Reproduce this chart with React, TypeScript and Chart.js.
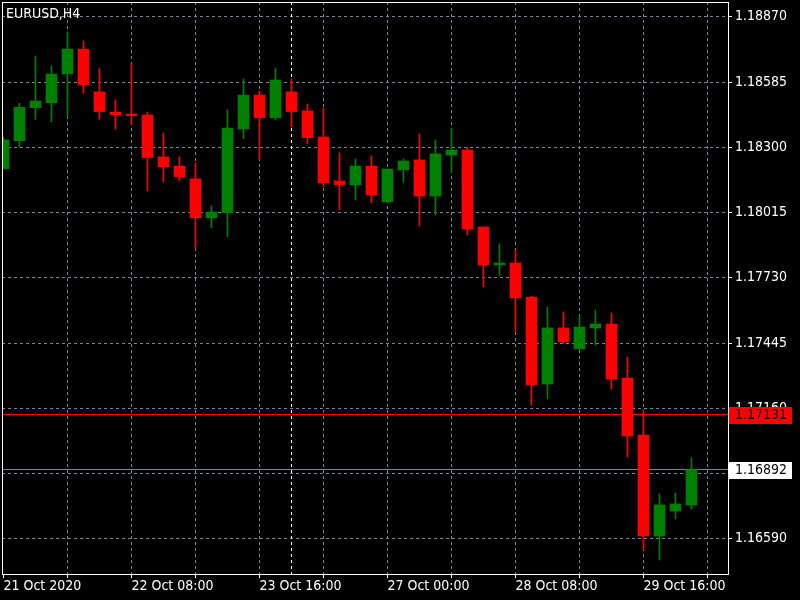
import React, { useEffect, useRef } from 'react';
import { Chart, registerables } from 'chart.js';

Chart.register(...registerables);

// ---- data ----
const symbolTitle = 'EURUSD,H4';
const candleIndex = [
  0, 1, 2, 3, 4, 5, 6, 7, 8, 9, 10, 11, 12, 13, 14, 15, 16, 17, 18, 19, 20, 21,
  22, 23, 24, 25, 26, 27, 28, 29, 30, 31, 32, 33, 34, 35, 36, 37, 38, 39, 40, 41, 42, 43,
];
const opens = [
  1.18207, 1.18329, 1.18473, 1.18495, 1.18621, 1.18729, 1.18542, 1.18454, 1.18445, 1.18441,
  1.18258, 1.18218, 1.18162, 1.17992, 1.18014, 1.1838, 1.18528, 1.18429, 1.18542, 1.18459,
  1.18345, 1.18153, 1.18135, 1.18218, 1.18062, 1.18201, 1.18245, 1.18087, 1.18266, 1.18288,
  1.17952, 1.17786, 1.17795, 1.17646, 1.17266, 1.17511, 1.17419, 1.17511, 1.17528, 1.17292,
  1.17043, 1.16602, 1.16711, 1.16738,
];
const highs = [
  1.18344, 1.18492, 1.18699, 1.18655, 1.18804, 1.18764, 1.18646, 1.18507, 1.18667, 1.18454,
  1.18362, 1.18258, 1.18231, 1.18044, 1.18463, 1.18598, 1.18546, 1.18646, 1.18598, 1.18489,
  1.18472, 1.18275, 1.18249, 1.18262, 1.18205, 1.18249, 1.18358, 1.18332, 1.18384, 1.18299,
  1.17952, 1.17878, 1.17851, 1.1765, 1.17602, 1.17581, 1.17563, 1.17589, 1.17576, 1.17384,
  1.17153, 1.16786, 1.1679, 1.16943,
];
const lows = [
  1.18205, 1.183, 1.18422, 1.18412, 1.18437, 1.18536, 1.18422, 1.18379, 1.18399, 1.1811,
  1.1815, 1.18154, 1.17859, 1.17949, 1.1791, 1.18338, 1.18245, 1.18421, 1.1839, 1.18316,
  1.18128, 1.18027, 1.1807, 1.18057, 1.18057, 1.18148, 1.17956, 1.18004, 1.18189, 1.17917,
  1.17691, 1.17738, 1.17493, 1.17174, 1.17201, 1.17441, 1.17419, 1.17436, 1.17244, 1.16947,
  1.16541, 1.16497, 1.16676, 1.1672,
];
const closes = [
  1.18332, 1.18475, 1.18502, 1.1862, 1.18729, 1.18573, 1.18456, 1.18442, 1.18438, 1.18255,
  1.18215, 1.18172, 1.17992, 1.18017, 1.18384, 1.18528, 1.18429, 1.18594, 1.18456, 1.18342,
  1.18145, 1.18137, 1.18218, 1.18092, 1.18205, 1.1824, 1.18087, 1.18271, 1.18288, 1.17943,
  1.17786, 1.17795, 1.17642, 1.17262, 1.17511, 1.1745, 1.17515, 1.17528, 1.17288, 1.17039,
  1.16602, 1.16738, 1.16742, 1.16892,
];
const xTickLabels = [
  '21 Oct 2020', '22 Oct 08:00', '23 Oct 16:00', '27 Oct 00:00', '28 Oct 08:00', '29 Oct 16:00',
];
const xLabelEvery = 8; // candles between date labels
const xGridEvery = 4; // candles between vertical grid lines
const yTicks = [1.1659, 1.16875, 1.1716, 1.17445, 1.1773, 1.18015, 1.183, 1.18585, 1.1887];
const redLinePrice = 1.17131;
const greyLinePrice = 1.16892;
const separatorCandle = 18;

// ---- styles ----
const BG = '#000000';
const UP = '#008000';
const DOWN = '#ff0000';
const GRID = '#778899';
const FG = '#ffffff';
const FONT_FAMILY = '"DejaVu Sans Condensed", "DejaVu Sans", sans-serif';
const FONT_SIZE = 14;
const DASH = [3, 3];

const App = () => {
  const ref = useRef<HTMLCanvasElement>(null);

  useEffect(() => {
    const canvas = ref.current;
    if (!canvas) return;

    const colors = candleIndex.map((_, i) => (closes[i] >= opens[i] ? UP : DOWN));
    const bodies = candleIndex.map((k, i) => ({ x: k, y: [opens[i], closes[i]] }));
    const wicks = candleIndex.map((k, i) => ({ x: k, y: [lows[i], highs[i]] }));
    const gridTicks: number[] = [];
    for (let k = 0; k <= candleIndex[candleIndex.length - 1] + 1; k += xGridEvery) gridTicks.push(k);

    const font = { family: FONT_FAMILY, size: FONT_SIZE };
    const fontStr = `${FONT_SIZE}px ${FONT_FAMILY}`;

    const mt4Plugin = {
      id: 'mt4',
      beforeDraw(chart: any) {
        const { ctx, width, height } = chart;
        ctx.save();
        ctx.fillStyle = BG;
        ctx.fillRect(0, 0, width, height);
        ctx.restore();
      },
      beforeDatasetsDraw(chart: any) {
        const { ctx, chartArea, scales } = chart;
        ctx.save();
        ctx.lineWidth = 1;
        // separator
        const sx = Math.round(scales.x.getPixelForValue(separatorCandle) - 0.5) + 0.5;
        ctx.strokeStyle = FG;
        ctx.setLineDash(DASH);
        ctx.beginPath();
        ctx.moveTo(sx, chartArea.top);
        ctx.lineTo(sx, chartArea.bottom);
        ctx.stroke();
        ctx.setLineDash([]);
        // price lines
        const lines = [
          { p: redLinePrice, c: DOWN },
          { p: greyLinePrice, c: GRID },
        ];
        lines.forEach(({ p, c }) => {
          const y = Math.round(scales.y.getPixelForValue(p) - 0.5) + 0.5;
          ctx.strokeStyle = c;
          ctx.beginPath();
          ctx.moveTo(chartArea.left, y);
          ctx.lineTo(chartArea.right, y);
          ctx.stroke();
        });
        ctx.restore();
      },
      afterDraw(chart: any) {
        const { ctx, chartArea, scales } = chart;
        ctx.save();
        // frame
        ctx.strokeStyle = FG;
        ctx.lineWidth = 1;
        ctx.strokeRect(
          chartArea.left + 0.5,
          chartArea.top + 0.5,
          chartArea.right - chartArea.left,
          chartArea.bottom - chartArea.top,
        );
        // price boxes
        ctx.font = fontStr;
        ctx.textBaseline = 'middle';
        ctx.textAlign = 'left';
        const boxes = [
          { p: redLinePrice, bg: DOWN },
          { p: greyLinePrice, bg: FG },
        ];
        boxes.forEach(({ p, bg }) => {
          const y = Math.round(scales.y.getPixelForValue(p));
          ctx.fillStyle = bg;
          ctx.fillRect(chartArea.right + 1, y - 8, 63, 17);
          ctx.fillStyle = '#000000';
          ctx.fillText(p.toFixed(5), chartArea.right + 7, y + 0.5);
        });
        // title
        ctx.fillStyle = FG;
        ctx.fillText(symbolTitle, 6, 14);
        ctx.restore();
      },
    };

    const chart = new Chart(canvas, {
      type: 'bar',
      data: {
        datasets: [
          {
            data: bodies as any,
            backgroundColor: colors,
            barThickness: 11,
            grouped: false,
            borderWidth: 0,
          },
          {
            data: wicks as any,
            backgroundColor: colors,
            barThickness: 1,
            grouped: false,
            borderWidth: 0,
          },
        ],
      },
      options: {
        animation: false,
        responsive: false,
        devicePixelRatio: 1,
        layout: { padding: { left: 2, top: 2, right: 0, bottom: 0 } },
        plugins: {
          legend: { display: false },
          tooltip: { enabled: false },
          title: { display: false },
        },
        scales: {
          x: {
            type: 'linear',
            position: 'bottom',
            min: -0.09375,
            max: 45.28125,
            bounds: 'data',
            offset: false,
            afterBuildTicks: (s: any) => {
              s.ticks = gridTicks.map((v) => ({ value: v }));
            },
            afterFit: (s: any) => {
              s.height = 26;
              s.paddingLeft = 0;
              s.paddingRight = 0;
              s.paddingTop = 0;
              s.paddingBottom = 0;
            },
            grid: {
              offset: false,
              color: (c: any) => (c.tick && c.tick.value === 0 ? 'rgba(0,0,0,0)' : GRID),
              tickColor: FG,
              tickLength: 4,
              lineWidth: 1,
            },
            border: { display: false, dash: DASH },
            ticks: {
              color: FG,
              font,
              align: 'start',
              padding: 0,
              autoSkip: false,
              maxRotation: 0,
              minRotation: 0,
              callback: (v: any) => {
                const n = Number(v);
                return n % xLabelEvery === 0 ? xTickLabels[n / xLabelEvery] ?? '' : '';
              },
            },
          },
          y: {
            type: 'linear',
            position: 'right',
            min: 1.164362,
            max: 1.189346,
            bounds: 'data',
            afterBuildTicks: (s: any) => {
              s.ticks = yTicks.map((v) => ({ value: v }));
            },
            afterFit: (s: any) => {
              s.width = 72;
              s.paddingTop = 0;
              s.paddingBottom = 0;
              s.paddingLeft = 0;
              s.paddingRight = 0;
            },
            grid: { color: GRID, tickColor: FG, tickLength: 4, lineWidth: 1 },
            border: { display: false, dash: DASH },
            ticks: {
              color: FG,
              font,
              padding: 3,
              autoSkip: false,
              callback: (v: any) => Number(v).toFixed(5),
            },
          },
        },
      } as any,
      plugins: [mt4Plugin],
    });

    return () => chart.destroy();
  }, []);

  return (
    <div style={{ position: 'absolute', left: 0, top: 0, width: 800, height: 600, background: BG }}>
      <canvas ref={ref} width={800} height={600} style={{ display: 'block' }} />
    </div>
  );
};

export default App;
